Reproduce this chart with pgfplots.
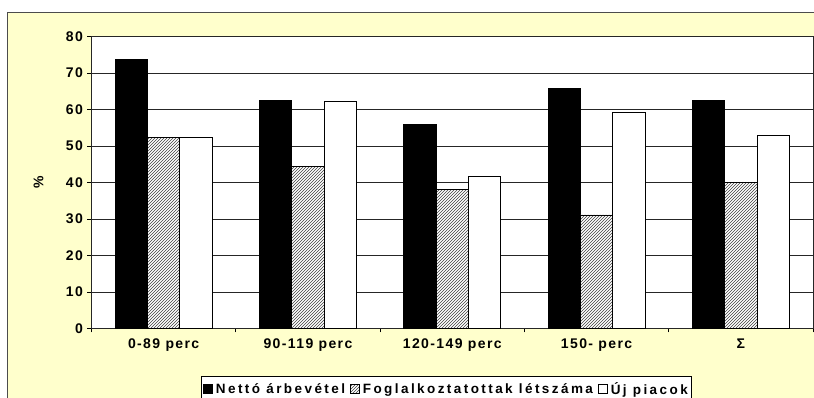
\documentclass[border=0pt]{standalone}
\usepackage{fontspec}
\setmainfont{Liberation Sans}[LetterSpace=10]
\newfontfamily\legendfont{Liberation Sans}[LetterSpace=18]
\usepackage{pgfplots}
\pgfplotsset{compat=1.18}
\usetikzlibrary{patterns}
\definecolor{bgyellow}{RGB}{255,255,204}

\begin{document}
\begin{tikzpicture}[x=1pt,y=1pt]
% page = 814 x 398 (1pt per pixel of the reference)
\fill[bgyellow, draw=black!70, line width=0.8pt] (-84.5,-90) rectangle (740,316.5);
\begin{axis}[
    at={(0,0)}, anchor=south west,
    scale only axis, width=721.5pt, height=292pt,
    axis background/.style={fill=white},
    ybar=0pt, bar width=32.3pt,
    xmin=-0.5, xmax=4.5, ymin=0, ymax=80,
    xtick={0,...,4},
    xticklabels={0-89 perc,90-119 perc,120-149 perc,150- perc,Σ},
    minor xtick={-0.5,0.5,...,4.5},
    ytick={0,10,...,80},
    tick align=outside, tick pos=left,
    major tick length=4pt, minor tick length=4pt,
    major x tick style={draw=none},
    tick style={black, line width=0.8pt},
    ymajorgrids,
    major grid style={black!85, line width=0.8pt},
    axis line style={black!85, line width=0.8pt},
    /pgf/number format/assume math mode=true,
    tick label style={font=\fontsize{14}{16}\selectfont\bfseries},
    yticklabel style={xshift=-1pt},
    xticklabel style={yshift=-3pt},
    every axis y label/.style={at={(axis description cs:0,0.5)}, xshift=-53pt,
        rotate=90, anchor=center, font=\fontsize{14}{16}\selectfont\bfseries},
    ylabel={\%},
    legend columns=3,
    legend cell align=left,
    legend image code/.code={\draw[#1] (0pt,-4.5pt) rectangle (9pt,4.5pt);},
    legend style={at={(0.492,-0.162)}, anchor=north, draw=black, fill=white,
        line width=0.8pt, inner xsep=2pt, inner ysep=4pt,
        font=\legendfont\fontsize{13.5}{15}\selectfont\bfseries,
        /tikz/every odd column/.append style={column sep=1pt},
        /tikz/every even column/.append style={column sep=3pt}},
]
\addplot[fill=black, draw=black, line width=0.8pt] coordinates {
    (0,73.6) (1,62.4) (2,56.0) (3,65.7) (4,62.4)
};
\addplot[fill=white, draw=black, line width=0.8pt,
    postaction={pattern=north east lines, pattern color=black!75}] coordinates {
    (0,52.4) (1,44.5) (2,38.1) (3,31.1) (4,40.1)
};
\addplot[fill=white, draw=black, line width=0.8pt] coordinates {
    (0,52.4) (1,62.3) (2,41.8) (3,59.3) (4,52.9)
};
\legend{Nettó árbevétel, Foglalkoztatottak létszáma, Új piacok}
\end{axis}
\pgfresetboundingbox
\path[use as bounding box] (-91.5,-69.5) rectangle (722.5,328.5);
\end{tikzpicture}
\end{document}
